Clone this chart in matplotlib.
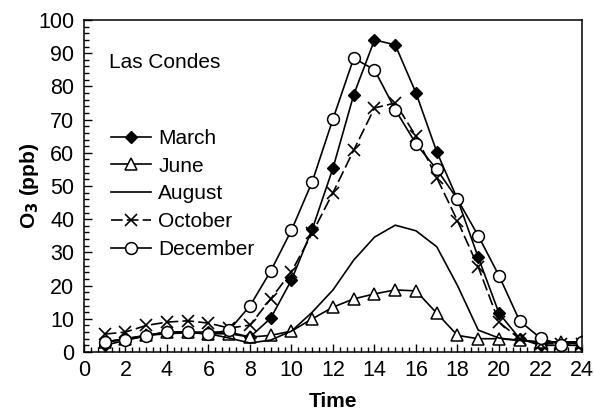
import matplotlib.pyplot as plt
from matplotlib.ticker import MultipleLocator

plt.rcParams['font.family'] = ['Liberation Sans', 'DejaVu Sans']

hours = list(range(1, 25))
march = [2, 3.5, 5, 6, 6, 6, 6, 4.5, 10.2, 21.7, 37, 55.4, 77.5, 94, 92.5, 78,
         60.3, 46, 28.5, 11.7, 4, 2, 2, 2]
june = [3, 4, 5, 6, 6, 5.5, 5.5, 4.5, 5, 6.3, 10, 13.5, 16, 17.5, 18.7, 18.4,
        11.7, 5, 4, 4, 3.5, 3, 3, 3]
august = [3, 4, 5, 5.5, 5.8, 5.5, 4.2, 2.7, 3.6, 6.3, 12, 18.7, 27.7, 34.6, 38.2, 36.5,
          31.7, 20, 6.6, 4.2, 3.5, 3, 3, 3]
october = [5.4, 6, 8, 9, 9.4, 8.7, 7.2, 8.1, 16, 24.2, 35.8, 48, 60.8, 73.5, 75, 65,
           52.5, 39.5, 25.6, 9, 3.9, 2.5, 2.5, 2.5]
december = [3, 3.6, 4.8, 6, 6, 5.4, 6.6, 13.9, 24.4, 36.7, 51.3, 70.2, 88.5, 85, 73, 62.7,
            55, 46, 35, 23, 9.3, 4.2, 2.1, 3]

fig = plt.figure(figsize=(5.94, 4.13), dpi=100)
ax = fig.add_axes([0.1414, 0.1477, 0.8384, 0.8039])

lw = 1.2
ax.plot(hours, march, '-', color='black', lw=lw, marker='D', ms=6.5,
        mfc='black', mec='black', label='March')
ax.plot(hours, june, '-', color='black', lw=lw, marker='^', ms=9,
        mfc='white', mec='black', mew=1.1, label='June')
ax.plot(hours, august, '-', color='black', lw=lw, label='August')
ax.plot(hours, october, color='black', lw=lw, ls=(0, (7, 2.5)), marker='x', ms=8,
        mew=1.2, mec='black', label='October')
ax.plot(hours, december, '-', color='black', lw=lw, marker='o', ms=8.5,
        mfc='white', mec='black', mew=1.1, label='December')

ax.set_xlim(0, 24)
ax.set_ylim(0, 100)
ax.xaxis.set_major_locator(MultipleLocator(2))
ax.xaxis.set_minor_locator(MultipleLocator(1 / 3))
ax.yaxis.set_major_locator(MultipleLocator(10))
ax.yaxis.set_minor_locator(MultipleLocator(2))
ax.tick_params(which='both', direction='in', top=False, right=False, width=1,
               labelsize=15.5, color='black')
ax.tick_params(which='major', length=6)
ax.tick_params(which='minor', length=3.5)
ax.tick_params(axis='y', pad=7)
ax.tick_params(axis='x', pad=6)
for s in ax.spines.values():
    s.set_linewidth(1.1)

ax.set_xlabel('Time', fontsize=15, fontweight='bold', labelpad=8)
ax.set_ylabel('O$_\\mathbf{3}$ (ppb)', fontsize=15, fontweight='bold', labelpad=-2)

ax.text(0.05, 0.873, 'Las Condes', transform=ax.transAxes, fontsize=15,
        ha='left', va='center')

ax.legend(loc='upper left', bbox_to_anchor=(0.055, 0.672), frameon=False,
          fontsize=15, handlelength=1.9, handletextpad=0.35, labelspacing=0.42,
          borderpad=0, borderaxespad=0)

plt.savefig('out.png', dpi=100)
